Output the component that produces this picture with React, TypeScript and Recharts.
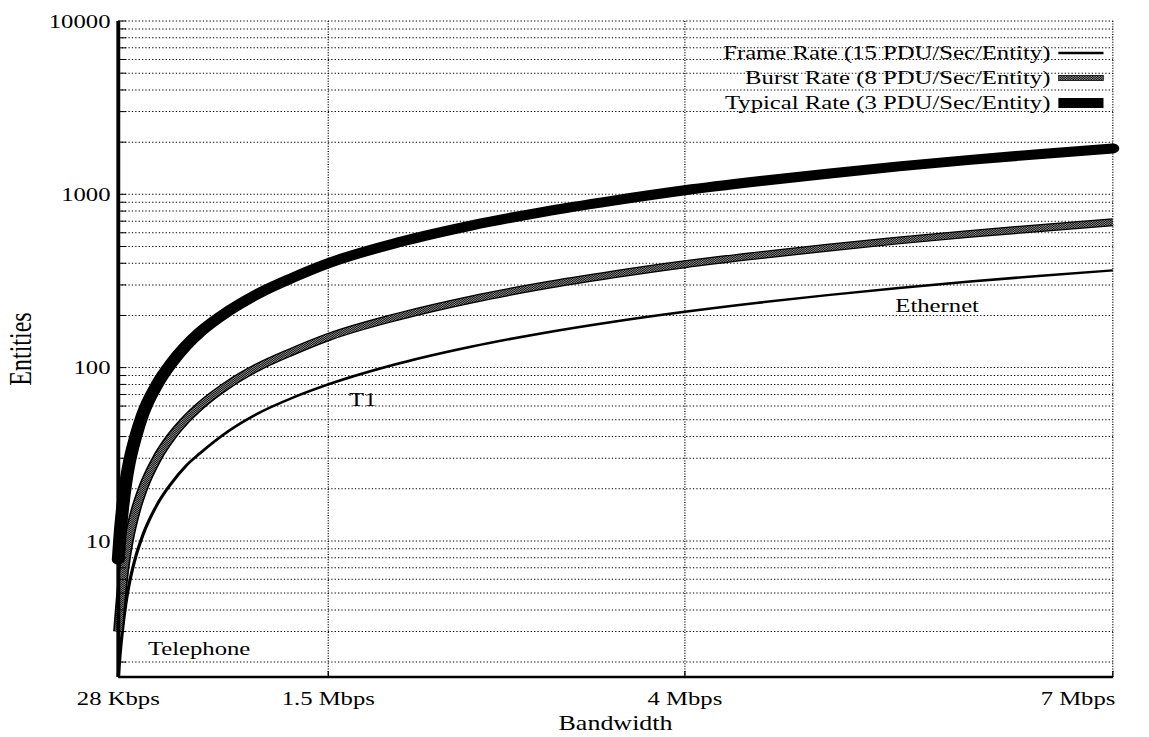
import React from 'react';
import {
  LineChart,
  Line,
  XAxis,
  YAxis,
  CartesianGrid,
  Legend,
  ReferenceDot,
} from 'recharts';

// Bandwidth (Mbps) sample points, x axis is linear from 28 Kbps to 7 Mbps
const bandwidthMbps = [
  0.028, 0.04, 0.06, 0.08, 0.1, 0.15, 0.2, 0.3, 0.4, 0.5, 0.6, 0.8, 1, 1.25, 1.5,
  2, 2.5, 3, 3.5, 4, 4.5, 5, 5.5, 6, 6.5, 7,
];

// Entities supported
const frameRate = [
  1.65, 2.2, 3.2, 4.3, 5.4, 8.1, 10.8, 16.2, 21.5, 27, 32, 43, 54, 67, 80,
  106, 132, 158, 184, 210, 236, 262, 288, 314, 339, 364,
];
const burstRate = [
  3.0, 4.0, 6.0, 8.0, 10, 15, 20, 30, 40, 50, 60, 80, 100, 124, 150,
  198, 247, 296, 345, 395, 443, 492, 542, 591, 640, 690,
];
const typicalRate = [
  7.8, 10.8, 16, 21.5, 27, 40, 54, 80, 106, 133, 160, 212, 265, 330, 400,
  530, 660, 790, 920, 1055, 1185, 1315, 1450, 1580, 1710, 1840,
];

const bandwidthTicks = [0.028, 1.5, 4, 7];
const bandwidthLabels = ['28 Kbps', '1.5 Mbps', '4 Mbps', '7 Mbps'];

const entityTicks = [
  2, 3, 4, 5, 6, 7, 8, 9, 10,
  20, 30, 40, 50, 60, 70, 80, 90, 100,
  200, 300, 400, 500, 600, 700, 800, 900, 1000,
  2000, 3000, 4000, 5000, 6000, 7000, 8000, 9000, 10000,
];
const entityLabels = [10, 100, 1000, 10000];

const seriesNames = [
  'Frame Rate (15 PDU/Sec/Entity)',
  'Burst Rate (8 PDU/Sec/Entity)',
  'Typical Rate (3 PDU/Sec/Entity)',
];

const annotationText = ['Telephone', 'T1', 'Ethernet'];
const annotationMbps = [0.19, 1.6, 5.43];
const annotationEntities = [2.4, 66, 230];

const chartFont = '"Liberation Serif", "Times New Roman", Times, serif';
// the scanned figure is stretched sideways, so the whole chart is too
const STRETCH = 1.3;
const WIDTH = 884;
const HEIGHT = 737;

const chartData = bandwidthMbps.map((mbps, i) => ({
  mbps,
  frame: frameRate[i],
  burst: burstRate[i],
  typical: typicalRate[i],
}));

const BandwidthTick = (props: any) => {
  const { x, y, payload } = props;
  const idx = bandwidthTicks.indexOf(payload.value);
  const last = idx === bandwidthTicks.length - 1;
  return (
    <text
      x={last ? x + 2 : x}
      y={y}
      dy="0.71em"
      textAnchor={last ? 'end' : 'middle'}
      fill="#000"
      fontSize={19}
      fontFamily={chartFont}
    >
      {bandwidthLabels[idx]}
    </text>
  );
};

const LegendSample = ({ index }: { index: number }) => (
  <svg width={35} height={12} style={{ marginLeft: 6, display: 'block' }}>
    {index === 0 && <line x1={0} x2={35} y1={6} y2={6} stroke="#000" strokeWidth={2.5} />}
    {index === 1 && (
      <rect x={0} y={3.5} width={35} height={5} fill="url(#burstChecker)" stroke="#000" strokeWidth={0.8} />
    )}
    {index === 2 && <rect x={0} y={1} width={35} height={10} fill="#000" />}
  </svg>
);

const renderLegend = () => (
  <div style={{ fontFamily: chartFont, fontSize: 19, color: '#000' }}>
    {seriesNames.map((name, i) => (
      <div
        key={name}
        style={{ display: 'flex', alignItems: 'center', justifyContent: 'flex-end', height: 25 }}
      >
        <span style={{ whiteSpace: 'nowrap', lineHeight: '25px' }}>{name}</span>
        <LegendSample index={i} />
      </div>
    ))}
  </div>
);

const App: React.FC = () => {
  return (
    <div
      style={{
        position: 'absolute',
        left: 0,
        top: 0,
        width: WIDTH,
        height: HEIGHT,
        background: '#fff',
        transform: `scaleX(${STRETCH})`,
        transformOrigin: '0 0',
      }}
    >
      <LineChart
        width={WIDTH}
        height={HEIGHT}
        data={chartData}
        margin={{ top: 21, right: 28, bottom: 0, left: 0 }}
      >
        <defs>
          <pattern id="burstChecker" width={2} height={2} patternUnits="userSpaceOnUse">
            <rect width={2} height={2} fill="#9a9a9a" />
            <rect width={1} height={1} fill="#000" />
            <rect x={1} y={1} width={1} height={1} fill="#000" />
          </pattern>
        </defs>
        <CartesianGrid stroke="#000" strokeDasharray="1 1.6" strokeWidth={1} />
        <XAxis
          dataKey="mbps"
          type="number"
          domain={[0.028, 7]}
          ticks={bandwidthTicks}
          interval={0}
          height={60}
          tickSize={-6}
          tickMargin={21}
          tick={<BandwidthTick />}
          tickLine={{ stroke: '#000' }}
          axisLine={{ stroke: '#000', strokeWidth: 2.5 }}
          label={{
            value: 'Bandwidth',
            position: 'insideBottom',
            offset: 7,
            fill: '#000',
            fontSize: 20,
            fontFamily: chartFont,
          }}
        />
        <XAxis
          xAxisId="top"
          orientation="top"
          dataKey="mbps"
          type="number"
          domain={[0.028, 7]}
          height={0}
          tick={false}
          axisLine={{ stroke: '#000', strokeWidth: 2.5 }}
        />
        <YAxis
          type="number"
          scale="log"
          domain={[1.64, 10000]}
          ticks={entityTicks}
          interval={0}
          width={91}
          tickSize={-6}
          tickMargin={12}
          tickFormatter={(v: number) => (entityLabels.includes(v) ? String(v) : '')}
          tick={{ fill: '#000', fontSize: 19, fontFamily: chartFont }}
          tickLine={{ stroke: '#000' }}
          axisLine={{ stroke: '#000', strokeWidth: 3 }}
          label={{
            value: 'Entities',
            angle: -90,
            position: 'insideLeft',
            offset: 15,
            style: { textAnchor: 'middle' },
            fill: '#000',
            fontSize: 24,
            fontFamily: chartFont,
          }}
        />
        <YAxis
          yAxisId="right"
          orientation="right"
          type="number"
          scale="log"
          domain={[1.64, 10000]}
          ticks={entityTicks}
          interval={0}
          width={0}
          tickSize={-6}
          tickFormatter={() => ''}
          tickLine={{ stroke: '#000' }}
          axisLine={{ stroke: '#000', strokeWidth: 2.5 }}
        />
        <Line
          type="monotone"
          dataKey="frame"
          name={seriesNames[0]}
          stroke="#000"
          strokeWidth={2.5}
          dot={false}
          activeDot={false}
          isAnimationActive={false}
        />
        <Line
          type="monotone"
          dataKey="burst"
          stroke="#000"
          strokeWidth={8}
          dot={false}
          activeDot={false}
          legendType="none"
          isAnimationActive={false}
        />
        <Line
          type="monotone"
          dataKey="burst"
          name={seriesNames[1]}
          stroke="url(#burstChecker)"
          strokeWidth={5.5}
          dot={false}
          activeDot={false}
          isAnimationActive={false}
        />
        <Line
          type="monotone"
          dataKey="typical"
          name={seriesNames[2]}
          stroke="#000"
          strokeWidth={10}
          strokeLinecap="round"
          dot={false}
          activeDot={false}
          isAnimationActive={false}
        />
        {annotationText.map((text, i) => (
          <ReferenceDot
            key={text}
            x={annotationMbps[i]}
            y={annotationEntities[i]}
            r={0}
            fill="none"
            stroke="none"
            label={{
              value: text,
              position: 'right',
              fill: '#000',
              fontSize: 19,
              fontFamily: chartFont,
            }}
          />
        ))}
        <Legend
          layout="horizontal"
          align="center"
          verticalAlign="middle"
          content={renderLegend}
          wrapperStyle={{ top: 40, right: 35, left: 'auto', width: 'auto', height: 'auto' }}
        />
      </LineChart>
    </div>
  );
};

export default App;
